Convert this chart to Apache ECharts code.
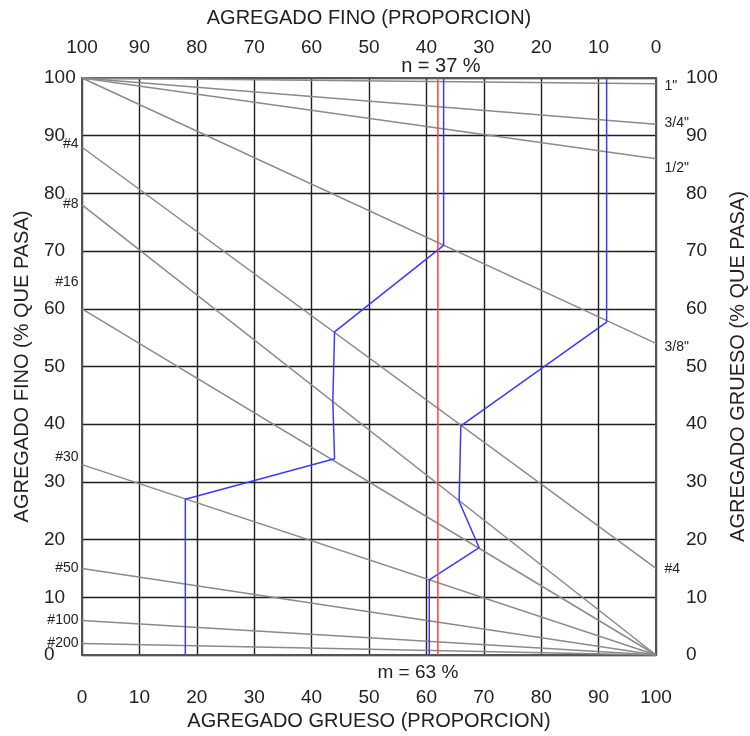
<!DOCTYPE html>
<html>
<head>
<meta charset="utf-8">
<script src="https://cdn.jsdelivr.net/npm/echarts@6/dist/echarts.min.js"></script>
<style>
  html, body { margin: 0; padding: 0; background: #fff; overflow: hidden; }
  #chart { width: 750px; height: 736px; }
</style>
</head>
<body>
<div id="chart"></div>
<script>
// sieve lines: % passing of fine aggregate (left, x=0) and coarse aggregate (right, x=100)
var sieves = ['1"', '3/4"', '1/2"', '3/8"', '#4', '#8', '#16', '#30', '#50', '#100', '#200'];
var finePass = [100, 100, 100, 100, 88, 78, 60, 33, 15, 6, 2];
var coarsePass = [99, 92, 86, 54, 15, 0, 0, 0, 0, 0, 0];

// combined limits (blue)
var limitAX = [18, 18, 44, 43.7, 44, 63, 63];
var limitAY = [0, 27, 34, 44, 56, 71, 100];
var limitBX = [60.5, 60.5, 69.2, 65.7, 66, 91.4, 91.4];
var limitBY = [0, 13, 18.6, 26.6, 39.7, 57.7, 100];

// chosen proportion
var coarseShare = 62;
var mLabel = 'm = 63 %';
var nLabel = 'n = 37 %';

var font = 'Liberation Sans, Arial, sans-serif';
var txt = '#222';

// label nudges for the sieve names
var leftOffset = {'#4': [0, -3], '#8': [0, -1], '#16': [0, -27], '#30': [0, -7], '#50': [0, 0], '#100': [0, 0], '#200': [0, 0]};
var rightOffset = {'1"': [0, 2], '3/4"': [0, -1], '1/2"': [0, 9], '3/8"': [0, 4], '#4': [0, 1]};

var chart = echarts.init(document.getElementById('chart'));

function pts(xs, ys) {
  return xs.map(function (x, i) { return [x, ys[i]]; });
}

var hidden = { color: 'rgba(0,0,0,0)', borderWidth: 0 };

var series = [];
sieves.forEach(function (s, i) {
  var p0 = { value: [0, finePass[i]] };
  var p1 = { value: [100, coarsePass[i]] };
  if (finePass[i] < 100) {
    p0.label = { show: true, position: 'left', distance: 3, formatter: s,
      offset: leftOffset[s] || [0, 0], fontSize: 14, color: txt, fontFamily: font };
  }
  if (coarsePass[i] > 0) {
    p1.label = { show: true, position: 'right', distance: 8, formatter: s,
      offset: rightOffset[s] || [0, 0], fontSize: 14, color: txt, fontFamily: font };
  }
  series.push({
    type: 'line', name: s, data: [p0, p1], symbol: 'circle', showSymbol: true,
    symbolSize: 1, itemStyle: hidden, silent: true, z: 3,
    lineStyle: { color: '#8a8a8a', width: 1.5 }
  });
});

[pts(limitAX, limitAY), pts(limitBX, limitBY)].forEach(function (d) {
  series.push({
    type: 'line', data: d, symbol: 'none', z: 5,
    lineStyle: { color: '#3a3aff', width: 1.5 }
  });
});

series.push({
  type: 'line', z: 6, symbol: 'circle', showSymbol: true, symbolSize: 1, itemStyle: hidden,
  lineStyle: { color: '#ff4040', width: 1.5 },
  data: [
    { value: [coarseShare, 0], label: { show: true, position: 'bottom', distance: 8, offset: [-20, 0],
      formatter: mLabel, fontSize: 19, color: txt, fontFamily: font } },
    { value: [coarseShare, 100], label: { show: true, position: 'top', distance: 1, offset: [3, 0],
      formatter: nLabel, fontSize: 20, color: txt, fontFamily: font } }
  ]
});

var gridLine = { show: true, lineStyle: { color: '#1e1e1e', width: 1.4 } };
var border = { show: true, onZero: false, lineStyle: { color: '#555', width: 2 } };
var tickLbl = { fontSize: 19, color: txt, fontFamily: font };
var nameStyle = { fontSize: 20, color: txt, fontFamily: font, verticalAlign: 'middle' };

chart.setOption({
  animation: false,
  backgroundColor: '#fff',
  grid: { left: 82, right: 94, top: 78, bottom: 81, containLabel: false, outerBoundsMode: 'none' },
  xAxis: [
    { type: 'value', position: 'bottom', min: 0, max: 100, interval: 10,
      name: 'AGREGADO GRUESO (PROPORCION)', nameLocation: 'middle', nameGap: 66,
      nameTextStyle: nameStyle,
      axisLine: border, axisTick: { show: false }, splitLine: gridLine,
      axisLabel: Object.assign({ margin: 33 }, tickLbl) },
    { type: 'value', position: 'top', min: 0, max: 100, interval: 10, inverse: true,
      name: 'AGREGADO FINO (PROPORCION)', nameLocation: 'middle', nameGap: 60,
      nameTextStyle: nameStyle,
      axisLine: border, axisTick: { show: false }, splitLine: { show: false },
      axisLabel: Object.assign({ margin: 21 }, tickLbl) }
  ],
  yAxis: [
    { type: 'value', position: 'left', min: 0, max: 100, interval: 10,
      name: 'AGREGADO FINO (% QUE PASA)', nameLocation: 'middle', nameGap: 60, nameRotate: 90,
      nameTextStyle: nameStyle,
      axisLine: border, axisTick: { show: false }, splitLine: gridLine,
      axisLabel: Object.assign({ margin: 38, align: 'left', padding: [0, 0, 8, 0] }, tickLbl) },
    { type: 'value', position: 'right', min: 0, max: 100, interval: 10,
      name: 'AGREGADO GRUESO (% QUE PASA)', nameLocation: 'middle', nameGap: 82, nameRotate: 90,
      nameTextStyle: nameStyle,
      axisLine: border, axisTick: { show: false }, splitLine: { show: false },
      axisLabel: Object.assign({ margin: 30, align: 'left' }, tickLbl) }
  ],
  series: series
});
</script>
</body>
</html>
